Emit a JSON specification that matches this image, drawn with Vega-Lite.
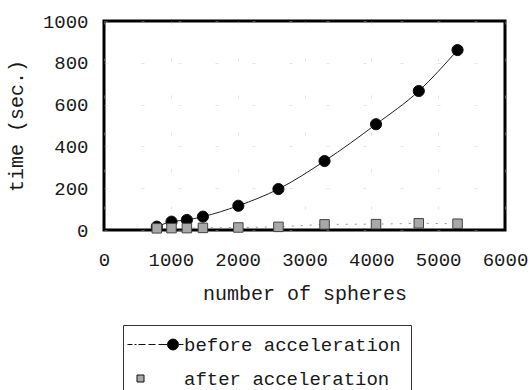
{
  "$schema": "https://vega.github.io/schema/vega-lite/v6.json",
  "autosize": "none",
  "width": 401,
  "height": 209,
  "padding": {"left": 104, "top": 21, "right": 27, "bottom": 160},
  "background": "white",
  "config": {
    "view": {"stroke": "black", "strokeWidth": 3},
    "font": "Liberation Mono",
    "axis": {
      "domain": false,
      "ticks": false,
      "grid": true,
      "gridColor": "#bbbbbb",
      "gridDash": [3, 34],
      "gridOpacity": 0.4,
      "labelFont": "Liberation Mono",
      "labelFontSize": 19,
      "labelColor": "#1a1a1a",
      "titleFont": "Liberation Mono",
      "titleFontSize": 20,
      "titleFontWeight": "normal",
      "titleColor": "#1a1a1a"
    }
  },
  "data": {
    "values": [
      {"n": 790, "time": 16, "series": "before acceleration"},
      {"n": 1010, "time": 40, "series": "before acceleration"},
      {"n": 1240, "time": 48, "series": "before acceleration"},
      {"n": 1480, "time": 64, "series": "before acceleration"},
      {"n": 2010, "time": 116, "series": "before acceleration"},
      {"n": 2610, "time": 196, "series": "before acceleration"},
      {"n": 3300, "time": 330, "series": "before acceleration"},
      {"n": 4070, "time": 506, "series": "before acceleration"},
      {"n": 4710, "time": 665, "series": "before acceleration"},
      {"n": 5290, "time": 861, "series": "before acceleration"},
      {"n": 790, "time": 8, "series": "after acceleration"},
      {"n": 1010, "time": 9, "series": "after acceleration"},
      {"n": 1240, "time": 9, "series": "after acceleration"},
      {"n": 1480, "time": 10, "series": "after acceleration"},
      {"n": 2010, "time": 12, "series": "after acceleration"},
      {"n": 2610, "time": 15, "series": "after acceleration"},
      {"n": 3300, "time": 27, "series": "after acceleration"},
      {"n": 4070, "time": 28, "series": "after acceleration"},
      {"n": 4710, "time": 32, "series": "after acceleration"},
      {"n": 5290, "time": 30, "series": "after acceleration"}
    ]
  },
  "encoding": {
    "x": {
      "field": "n",
      "type": "quantitative",
      "scale": {"domain": [0, 6000], "nice": false},
      "axis": {"values": [0, 1000, 2000, 3000, 4000, 5000, 6000], "format": "d", "title": "number of spheres", "labelPadding": 20, "titlePadding": 14, "labelFlush": false}
    },
    "y": {
      "field": "time",
      "type": "quantitative",
      "scale": {"domain": [0, 1000], "nice": false},
      "axis": {"values": [0, 200, 400, 600, 800, 1000], "format": "d", "title": "time (sec.)", "labelPadding": 16, "titlePadding": 16, "labelFlush": false}
    }
  },
  "layer": [
    {
      "transform": [{"filter": "datum.series === 'before acceleration'"}],
      "mark": {"type": "line", "color": "#222", "strokeWidth": 1, "interpolate": "monotone"},
      "encoding": {}
    },
    {
      "transform": [{"filter": "datum.series === 'after acceleration'"}],
      "mark": {"type": "line", "color": "#999", "strokeWidth": 1, "strokeDash": [2, 7]},
      "encoding": {}
    },
    {
      "transform": [{"filter": "datum.series === 'before acceleration'"}],
      "mark": {"type": "point", "shape": "circle", "filled": true, "opacity": 1, "fill": "#000", "stroke": "#111", "strokeWidth": 1, "size": 125},
      "encoding": {}
    },
    {
      "transform": [{"filter": "datum.series === 'after acceleration'"}],
      "mark": {"type": "point", "shape": "square", "filled": true, "opacity": 1, "fill": "#a8a8a8", "stroke": "#444", "strokeWidth": 1, "size": 90},
      "encoding": {}
    },
    {
      "transform": [{"filter": "false"}],
      "mark": {"type": "point", "filled": true, "opacity": 1},
      "encoding": {
        "shape": {
          "field": "series",
          "type": "nominal",
          "scale": {
            "domain": ["before acceleration", "after acceleration"],
            "range": [
              "M-3,0H-2M-1.6,0H-1.2M-0.8,0H0.6M1.2,0H2.6M3.2,0H5M7.2,0H8.2M7.2,0A1.1,1.1,0,1,1,5,0A1.1,1.1,0,1,1,7.2,0Z",
              "M-1.1,-0.7H0.3V0.7H-1.1Z"
            ]
          },
          "legend": {
            "title": null,
            "orient": "none",
            "legendX": 19,
            "legendY": 304,
            "direction": "vertical",
            "padding": 10,
            "strokeColor": "#333",
            "fillColor": "white",
            "symbolSize": 100,
            "symbolStrokeWidth": 1,
            "symbolStrokeColor": "#111",
            "symbolOpacity": 1,
            "labelFont": "Liberation Mono",
            "labelFontSize": 19,
            "labelColor": "#1a1a1a",
            "labelOffset": 32,
            "labelLimit": 400,
            "rowPadding": 14,
            "encode": {
              "symbols": {
                "update": {
                  "opacity": {"value": 1},
                  "fillOpacity": {"value": 1}
                }
              },
              "labels": {
                "update": {
                  "dx": {"signal": "datum.value === 'after acceleration' ? 17 : 0"}
                }
              }
            }
          }
        },
        "color": {
          "field": "series",
          "type": "nominal",
          "scale": {"domain": ["before acceleration", "after acceleration"], "range": ["#000000", "#a8a8a8"]},
          "legend": {"title": null}
        }
      }
    }
  ]
}
